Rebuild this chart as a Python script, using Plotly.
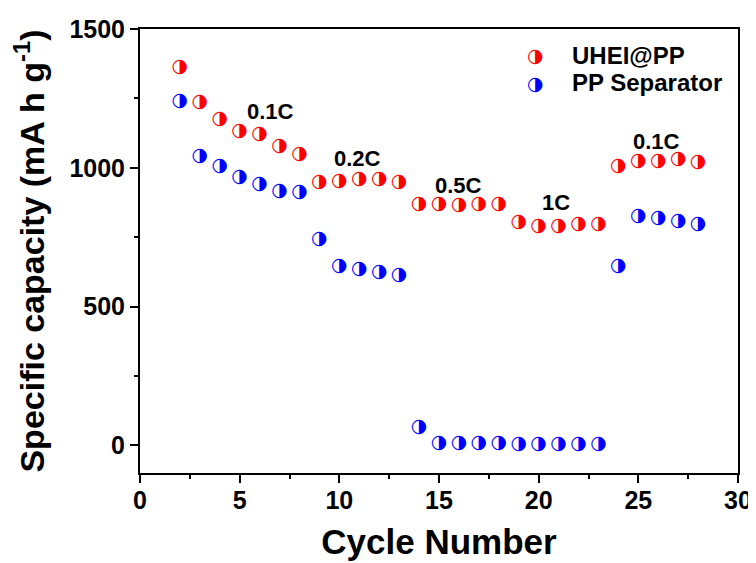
import plotly.graph_objects as go

cycles = list(range(2, 29))
uhei_pp = [1363, 1237, 1173, 1133, 1122, 1076, 1050,
           949, 951, 958, 959, 947,
           869, 869, 865, 869, 869,
           802, 790, 790, 796, 798,
           1005, 1024, 1022, 1030, 1019]
pp_separator = [1241, 1043, 1007, 964, 942, 914, 910,
                743, 644, 634, 622, 614,
                64, 8, 6, 6, 6,
                4, 4, 4, 4, 4,
                646, 827, 818, 809, 795]
series_names = ["UHEI@PP", "PP Separator"]
series_colors = ["#FF0000", "#0000FF"]
rate_labels = ["0.1C", "0.2C", "0.5C", "1C", "0.1C"]
rate_label_x = [6.57, 10.9, 15.96, 20.87, 25.93]
rate_label_y = [1203, 1033, 937, 874, 1096]
x_ticks = [0, 5, 10, 15, 20, 25, 30]
y_ticks = [0, 500, 1000, 1500]

FONT = "Liberation Sans, Arial, sans-serif"
GLYPH = "\u25D1"
GLYPH_FONT = "DejaVu Sans"
GLYPH_SIZE = 19

fig = go.Figure()
for name, vals, col in zip(series_names, [uhei_pp, pp_separator], series_colors):
    fig.add_trace(go.Scatter(
        x=cycles, y=vals, mode="text", name=name,
        text=[GLYPH] * len(vals), textposition="middle center",
        textfont=dict(family=GLYPH_FONT, size=GLYPH_SIZE, color=col),
        showlegend=False, hoverinfo="x+y",
    ))

for t, x, y in zip(rate_labels, rate_label_x, rate_label_y):
    fig.add_annotation(x=x, y=y, xref="x", yref="y", text=t, showarrow=False,
                       font=dict(family=FONT, size=22, color="black", weight="bold"))

# legend built from annotations
leg_y = [0.9414, 0.879]
for name, col, ly in zip(series_names, series_colors, leg_y):
    fig.add_annotation(x=0.662, y=ly, xref="paper", yref="paper", text=GLYPH,
                       showarrow=False, xanchor="center", yanchor="middle",
                       font=dict(family=GLYPH_FONT, size=GLYPH_SIZE, color=col))
    fig.add_annotation(x=0.719, y=ly, xref="paper", yref="paper", text=name,
                       showarrow=False, xanchor="left", yanchor="middle",
                       font=dict(family=FONT, size=24, color="black", weight="bold"))

axis_common = dict(
    showgrid=False, zeroline=False, showline=True, linecolor="black", linewidth=2,
    mirror=True, ticks="outside", ticklen=8, tickwidth=2, tickcolor="black",
    tickfont=dict(family=FONT, size=25, color="black", weight="bold"),
)
fig.update_xaxes(
    range=[0, 30], tickvals=x_ticks, **axis_common, ticklabelstandoff=-4,
    minor=dict(dtick=2.5, ticks="outside", ticklen=4, tickwidth=2, tickcolor="black", showgrid=False),
    title=dict(text="Cycle Number", standoff=16,
               font=dict(family=FONT, size=35, color="black", weight="bold")),
)
fig.update_yaxes(
    range=[-100, 1500], tickvals=y_ticks, **axis_common,
    minor=dict(dtick=250, ticks="outside", ticklen=4, tickwidth=2, tickcolor="black", showgrid=False),
    title=dict(text="Specific capacity (mA h g<sup>-1</sup>)", standoff=21,
               font=dict(family=FONT, size=34, color="black", weight="bold")),
)
fig.update_layout(
    width=748, height=555,
    margin=dict(l=132, r=18, t=21, b=90, autoexpand=False),
    plot_bgcolor="white", paper_bgcolor="white",
    showlegend=False,
)
fig.write_html("out.html")
